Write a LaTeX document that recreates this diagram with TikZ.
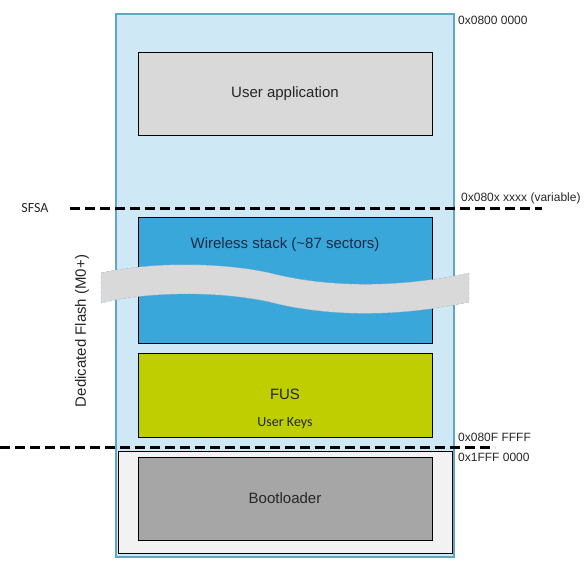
\documentclass[tikz,border=0pt]{standalone}
\usepackage{fontspec}
\setmainfont{Liberation Sans}
\newfontfamily\calibri{Carlito}
\definecolor{flashblue}{HTML}{CFE8F5}
\definecolor{flashedge}{HTML}{5FA7C3}
\definecolor{appgray}{HTML}{D9D9D9}
\definecolor{stackblue}{HTML}{3AA7DB}
\definecolor{fusgreen}{HTML}{BECE00}
\definecolor{bootgray}{HTML}{A6A6A6}
\definecolor{bootback}{HTML}{F2F2F2}
\definecolor{waveedge}{HTML}{9DB4C8}
\definecolor{ink}{HTML}{262626}
\definecolor{stackink}{HTML}{1C2B45}

\tikzstyle{block} = [draw=black, minimum width=294pt, inner sep=0pt, text=ink, font=\fontsize{15}{17}\selectfont]
\tikzstyle{txt} = [inner sep=0pt, text=ink, font=\fontsize{15}{17}\selectfont]
\tikzstyle{addr} = [anchor=west, inner sep=0pt, text=ink, font=\fontsize{12}{14}\selectfont]
\tikzstyle{bound} = [line width=3pt, dash pattern=on 10pt off 5pt]

\begin{document}
\begin{tikzpicture}[x=1pt, y=-1pt]
  \useasboundingbox (0,0) rectangle (586,568);
  \node (flash) at (285,285.5) [draw=flashedge, line width=2pt, fill=flashblue, minimum width=338pt, minimum height=543pt] {};
  \node (bootarea) at (285,502) [draw=black, fill=bootback, minimum width=334pt, minimum height=102pt] {};
  \node (app) at (285,93.5) [block, fill=appgray, minimum height=83pt] {User application};
  \node (stack) at (285,280) [block, fill=stackblue, minimum height=126pt] {};
  \node (stacklabel) at (285,245) [txt, text=stackink] {Wireless stack (\textasciitilde 87 sectors)};
  \node (fus) at (285,395) [block, fill=fusgreen, minimum height=84pt] {};
  \node (fuslabel) at (285,394) [txt] {FUS};
  \node (keys) at (285,423) [txt, font=\calibri\fontsize{14}{16}\selectfont] {User Keys};
  \node (boot) at (285,498.5) [block, fill=bootgray, minimum height=83pt] {Bootloader};
  % cut in the wireless stack
  \draw [waveedge, densely dashed, thin, fill=appgray]
    (101,273) .. controls (150,262) and (220,262) .. (270,273)
    .. controls (320,286) and (390,290) .. (469,273) -- (469,302)
    .. controls (390,319) and (320,315) .. (270,302)
    .. controls (220,291) and (150,291) .. (101,303) -- cycle;
  \coordinate (sfsaL) at (70,208);
  \coordinate (sfsaR) at (542,208);
  \coordinate (endL) at (0,447);
  \coordinate (endR) at (495,447);
  \draw [bound] (sfsaL) -- (sfsaR);
  \draw [bound] (endL) -- (endR);
  \node (sfsa) at (35,208) [txt, font=\calibri\fontsize{14}{16}\selectfont] {SFSA};
  \node (dedicated) at (82,331) [txt, rotate=90] {Dedicated Flash (M0+)};
  \node (a0) at (458,20) [addr] {0x0800 0000};
  \node (a1) at (461,198) [addr] {0x080x xxxx (variable)};
  \node (a2) at (458,437) [addr] {0x080F FFFF};
  \node (a3) at (458,457) [addr] {0x1FFF 0000};
\end{tikzpicture}
\end{document}
